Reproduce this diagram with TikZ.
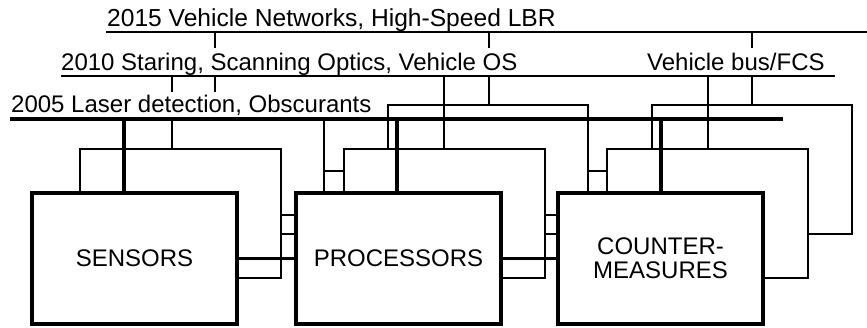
\documentclass[tikz,border=0pt]{standalone}
\usepackage{fontspec}
\setmainfont{Liberation Sans}
\begin{document}
\begin{tikzpicture}[x=1pt,y=-1pt,
  thinln/.style={line width=1.4pt},
  thickln/.style={line width=3.8pt},
  lbl/.style={font=\fontsize{24}{25}\selectfont, inner xsep=0pt, inner ysep=0pt, anchor=base west},
  boxa/.style={draw, line width=3.8pt, fill=white, minimum width=205pt, minimum height=131pt,
    inner sep=0pt, outer sep=0pt, anchor=north west, align=center,
    font=\fontsize{24}{24}\selectfont},
  boxb/.style={draw, line width=1.4pt, fill=white, minimum width=201pt, minimum height=129pt,
    inner sep=0pt, outer sep=0pt, anchor=north west},
  boxc/.style={draw, line width=1.4pt, fill=white, minimum width=200pt, minimum height=129pt,
    inner sep=0pt, outer sep=0pt, anchor=north west}
]
\useasboundingbox (0,0) rectangle (867,328);

% bus line ends and drop points
\coordinate (b15a) at (106,32);  \coordinate (b15b) at (867,32);
\coordinate (b10a) at (61,76);   \coordinate (b10b) at (835,76);
\coordinate (b05a) at (10,119);  \coordinate (b05b) at (783,119);
\coordinate (d15s) at (215,32);  \coordinate (d15p) at (489,32);  \coordinate (d15c) at (752,32);
\coordinate (d10s) at (172,76);  \coordinate (d10p) at (444,76);  \coordinate (d10c) at (708,76);
\coordinate (d05s) at (124,119); \coordinate (d05p) at (397,119); \coordinate (d05c) at (661,119);

% 2015 layer
\node[boxc] (s3) at (124,105) {};
\node[boxc] (p3) at (388,105) {};
\node[boxc] (c3) at (652,105) {};
\draw[thinln] ([yshift=-66pt]s3.north east) -- ([yshift=-66pt]p3.north west);
\draw[thinln] ([yshift=-66pt]p3.north east) -- ([yshift=-66pt]c3.north west);

% 2010 layer
\node[boxb] (s2) at (80,149) {};
\node[boxb] (p2) at (344,149) {};
\node[boxb] (c2) at (607,149) {};
\draw[thinln] ([yshift=-66pt]s2.north east) -- ([yshift=-66pt]p2.north west);
\draw[thinln] ([yshift=-66pt]p2.north east) -- ([yshift=-66pt]c2.north west);

% drops from 2015 and 2010 buses
\draw[thinln] (d15s) -- (d15s |- s3.north);
\draw[thinln] (d15p) -- (d15p |- p3.north);
\draw[thinln] (d15c) -- (d15c |- c3.north);
\draw[thinln] (d10s) -- (d10s |- s2.north);
\draw[thinln] (d10p) -- (d10p |- p2.north);
\draw[thinln] (d10c) -- (d10c |- c2.north);

% 2005 layer
\node[boxa] (s1) at (32,193) {SENSORS};
\node[boxa] (p1) at (296,193) {PROCESSORS};
\node[boxa] (c1) at (558,193) {COUNTER-\\MEASURES};
\draw[thickln] (s1.east) -- (p1.west);
\draw[thickln] (p1.east) -- (c1.west);
\draw[thickln] (d05s) -- (d05s |- s1.north);
\draw[thickln] (d05p) -- (d05p |- p1.north);
\draw[thickln] (d05c) -- (d05c |- c1.north);

% labels
\node[lbl, fill=white, text height=23pt, text depth=4pt] (t10) at (61,71) {2010 Staring, Scanning Optics, Vehicle OS};
\node[lbl, fill=white, text height=23pt, text depth=4pt] (tbus) at (647,71) {Vehicle bus/FCS};
\node[lbl, fill=white, text height=21pt, text depth=4pt] (t05) at (11,113) {2005 Laser detection, Obscurants};
\node[lbl, font=\fontsize{24.6}{25}\selectfont] (t15) at (107,27) {2015 Vehicle Networks, High-Speed LBR};

% bus lines
\draw[thinln] (b15a) -- (b15b);
\draw[thinln] (b10a) -- (b10b);
\draw[thickln] (b05a) -- (b05b);
\end{tikzpicture}
\end{document}
